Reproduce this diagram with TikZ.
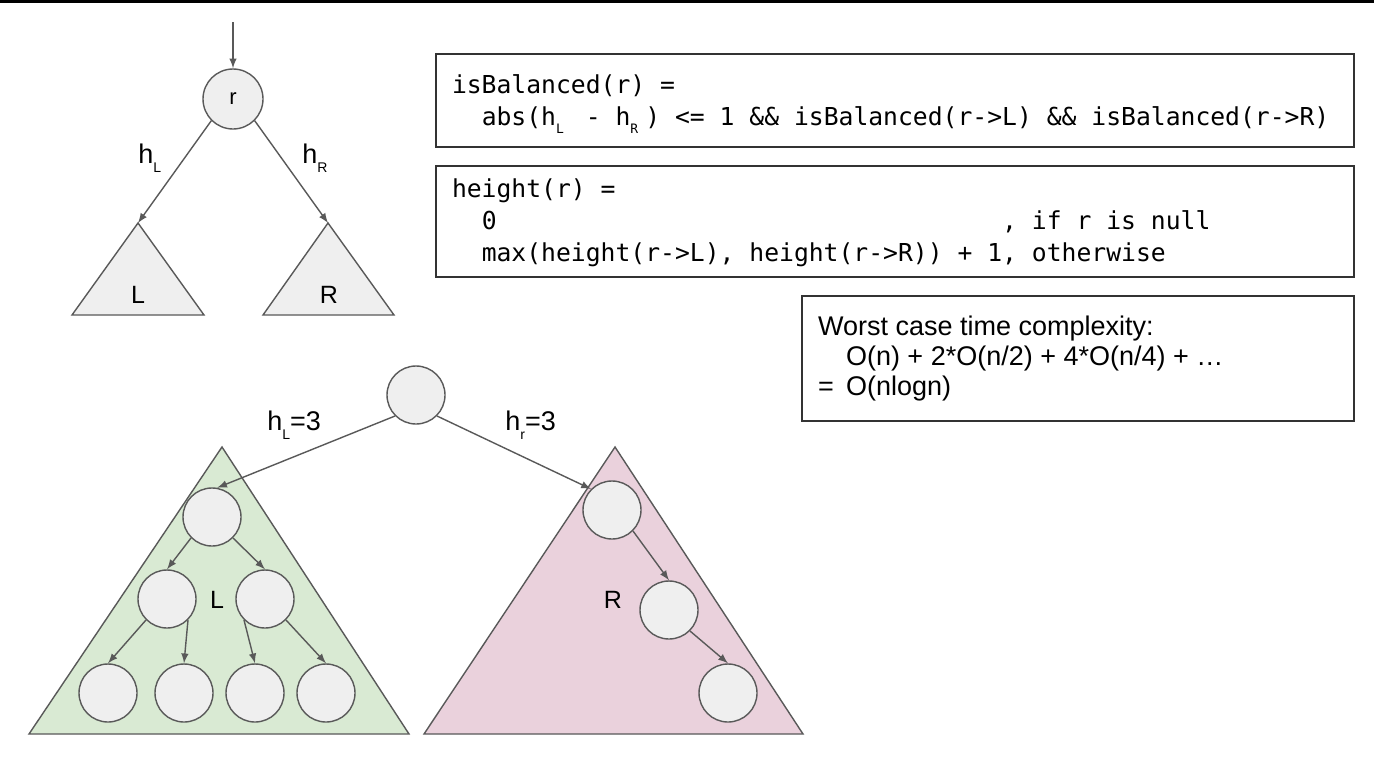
\documentclass[tikz,border=0pt]{standalone}
\usepackage{fontspec}
\setmainfont{Liberation Sans}
\setmonofont{DejaVu Sans Mono}

\definecolor{edgegray}{HTML}{595959}
\definecolor{nodefill}{HTML}{EFEFEF}
\definecolor{leftgreen}{HTML}{D9EAD3}
\definecolor{rightpink}{HTML}{EAD1DC}

% small lowered index, as in h_L
\newcommand\lowsub[1]{\raisebox{-0.34em}{\fontsize{7}{7}\selectfont #1}}
% same, but one code column wide
\newcommand\codesub[1]{\makebox[\fontcharwd\font`0][l]{\raisebox{-0.36em}{\fontsize{6.5}{7}\selectfont #1}}}
\newcommand\cols[1]{\hspace*{#1\fontcharwd\font`0}}
% one space = one code column
\newcommand\monospaces{\spaceskip=\fontcharwd\font`0\relax\xspaceskip=\spaceskip}

\begin{document}
\begin{tikzpicture}[x=0.5pt, y=-0.5pt, >=latex,
    treenode/.style={circle, draw=edgegray, fill=nodefill, line width=0.7pt, minimum size=29pt, inner sep=0pt},
    link/.style={->, draw=edgegray, line width=0.7pt},
    subtree/.style={draw=edgegray, line width=0.7pt},
    tag/.style={inner sep=0pt, font=\fontsize{13.5}{16}\selectfont},
    letter/.style={inner sep=0pt, font=\fontsize{12.5}{15}\selectfont},
    codebox/.style={draw=black!80, line width=0.75pt, minimum width=459pt, text width=443pt,
      inner xsep=8pt, inner ysep=0pt, align=flush left, font=\ttfamily\fontsize{12.35}{16}\selectfont}]
  \fill[white] (0,0) rectangle (1374,777);
  \useasboundingbox (0,0) rectangle (1374,777);
  \fill[black] (0,0) rectangle (1374,3);

  % small tree
  \coordinate (entry) at (233,22);
  \coordinate (Lapex) at (138,223);
  \coordinate (Rapex) at (328,223);
  \filldraw[subtree, fill=nodefill] (Lapex) -- (72,315) -- (204,315) -- cycle;
  \filldraw[subtree, fill=nodefill] (Rapex) -- (263,315) -- (394,315) -- cycle;
  \node[letter, anchor=base] (Lname) at (138,303) {L};
  \node[letter, anchor=base] (Rname) at (329,303) {R};
  \node[treenode, minimum size=30pt, font=\fontsize{11}{13}\selectfont] (root) at (233,99) {r};
  \draw[link] (entry) -- (root);
  \draw[link] (root.225) -- (Lapex);
  \draw[link] (root.315) -- (Rapex);
  \node[tag, anchor=base west] (hL) at (138,163) {h\lowsub{L}};
  \node[tag, anchor=base west] (hR) at (302,163) {h\lowsub{R}};

  % big tree
  \filldraw[subtree, fill=leftgreen] (222,447) -- (29,734) -- (409,734) -- cycle;
  \filldraw[subtree, fill=rightpink] (615,447) -- (424,734) -- (803,734) -- cycle;
  \node[letter, anchor=base] (Lbig) at (217,608) {L};
  \node[letter, anchor=base] (Rbig) at (613,608) {R};

  \node[treenode] (top) at (416,395) {};
  \node[treenode] (g1) at (212,517) {};
  \node[treenode] (g2) at (167,599) {};
  \node[treenode] (g3) at (265,599) {};
  \foreach \n/\x in {4/108,5/184,6/255,7/326}
    \node[treenode] (g\n) at (\x,693) {};
  \node[treenode] (p1) at (612,510) {};
  \node[treenode] (p2) at (669,610) {};
  \node[treenode] (p3) at (728,693) {};

  \draw[link] (top.225) -- (g1.80);
  \draw[link] (top.315) -- (p1.135);
  \foreach \a/\b/\c in {g1/g2/225, g1/g3/315, g2/g4/225, g2/g5/315, g3/g6/225, g3/g7/315, p1/p2/315, p2/p3/315}
    \draw[link] (\a.\c) -- (\b.north);

  \node[tag, anchor=base west] (hLbig) at (267,430) {h\lowsub{L}=3};
  \node[tag, anchor=base west] (hRbig) at (505,430) {h\lowsub{r}=3};

  % boxes
  \node[codebox, minimum height=46.5pt] (balancebox) at (895,100.5) {\monospaces
    \rule{0pt}{13pt}isBalanced(r) =\\
    \cols{2}abs(h\codesub{L} - h\codesub{R}) <= 1 \&\& isBalanced(r->L) \&\& isBalanced(r->R)};
  \node[codebox, minimum height=55.5pt] (heightbox) at (895,221.5) {\monospaces
    \rule{0pt}{11pt}height(r) =\\
    \cols{2}0\cols{34}, if r is null\\
    \cols{2}max(height(r->L), height(r->R)) + 1, otherwise};
  \node[draw=black!80, line width=0.75pt, minimum width=276pt, minimum height=62.5pt, text width=260pt,
    inner xsep=8pt, inner ysep=0pt, align=flush left, font=\fontsize{13.5}{15}\selectfont] (costbox) at (1078,358.5) {%
    Worst case time complexity:\\
    \hspace*{14pt}O(n) + 2*O(n/2) + 4*O(n/4) + …\\
    \makebox[14pt][l]{=}O(nlogn)};
\end{tikzpicture}
\end{document}
